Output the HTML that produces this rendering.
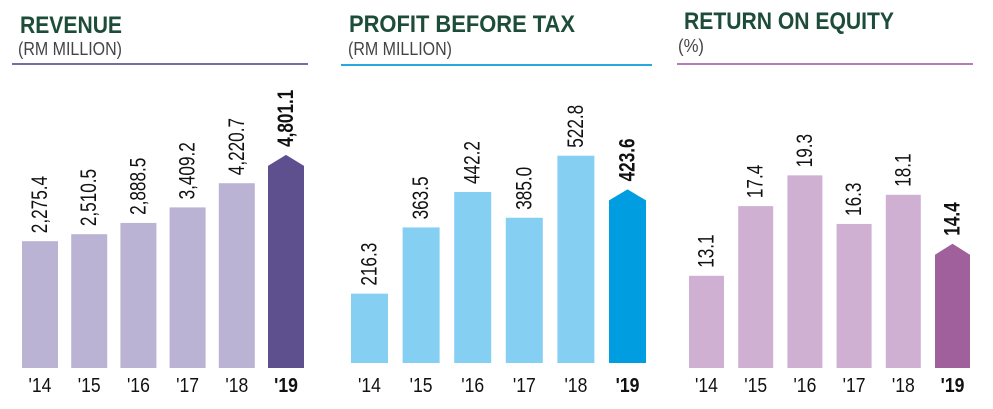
<!DOCTYPE html>
<html><head><meta charset="utf-8"><style>
html,body{margin:0;padding:0;background:#fff;width:993px;height:409px;overflow:hidden}
svg{display:block}
</style></head><body>
<svg id="chart" width="993" height="409" viewBox="0 0 993 409" xmlns="http://www.w3.org/2000/svg"></svg>
<script>
const years = ["'14","'15","'16","'17","'18","'19"];
const revenueValues = [2275.4, 2510.5, 2888.5, 3409.2, 4220.7, 4801.1];
const revenueLabels = ["2,275.4","2,510.5","2,888.5","3,409.2","4,220.7","4,801.1"];
const pbtValues = [216.3, 363.5, 442.2, 385.0, 522.8, 423.6];
const pbtLabels = ["216.3","363.5","442.2","385.0","522.8","423.6"];
const roeValues = [13.1, 17.4, 19.3, 16.3, 18.1, 14.4];
const roeLabels = ["13.1","17.4","19.3","16.3","18.1","14.4"];

const NS = "http://www.w3.org/2000/svg";
const svg = document.getElementById('chart');
function mk(tag, attrs, parent) {
  const e = document.createElementNS(NS, tag);
  for (const k in attrs) e.setAttribute(k, attrs[k]);
  (parent || svg).appendChild(e);
  return e;
}
const panels = [
  {key:'revenue', title:'REVENUE', titleW:102, titleX:20, titleY:33, sub:'(RM MILLION)', subW:104, subX:18, subY:55,
   lineX1:12, lineX2:308, lineY:64, lineC:'#7a6aa9', x0:22, step:49.2, bw:36, base:368,
   a:59, b:0.0298, light:'#bab3d4', dark:'#5e4f8e', vals:revenueValues, labs:revenueLabels},
  {key:'pbt', title:'PROFIT BEFORE TAX', titleW:226, titleX:349, titleY:32, sub:'(RM MILLION)', subW:104, subX:348, subY:55,
   lineX1:341, lineX2:652, lineY:65, lineC:'#29a8e0', x0:351, step:51.6, bw:37, base:363,
   a:-28, b:0.45, light:'#85cff3', dark:'#009ee0', vals:pbtValues, labs:pbtLabels},
  {key:'roe', title:'RETURN ON EQUITY', titleW:210, titleX:684, titleY:29, sub:'(%)', subW:26, subX:678, subY:52,
   lineX1:677, lineX2:973, lineY:64, lineC:'#b57db6', x0:689, step:49.2, bw:35, base:368,
   a:-120, b:16.2, light:'#cfb0d3', dark:'#a0609c', vals:roeValues, labs:roeLabels}
];
const FONT = '"Liberation Sans",sans-serif';
panels.forEach(p => {
  const g = mk('g', {});
  
  
  const t = mk('text', {x:p.titleX, y:p.titleY, 'font-family':FONT,'font-weight':'bold','font-size':24, fill:'#1d4d3a', textLength:p.titleW, lengthAdjust:'spacingAndGlyphs'}, g);
  t.textContent = p.title;
  
  
  const s = mk('text', {x:p.subX, y:p.subY, 'font-family':FONT,'font-size':18, fill:'#444', textLength:p.subW, lengthAdjust:'spacingAndGlyphs'}, g);
  s.textContent = p.sub;
  
  
  const l = mk('line', {x1:p.lineX1, x2:p.lineX2, y1:p.lineY, y2:p.lineY, stroke:p.lineC, 'stroke-width':2}, g);
  
  
  const yScale = v => p.base - (p.a + p.b * v);
  p.vals.forEach((v, i) => {
    const x = p.x0 + i * p.step;
    const top = yScale(v);
    const last = i === p.vals.length - 1;
    let bar;
    if (last) {
      const peak = top - 11;
      bar = mk('path', {d:`M${x},${p.base} L${x},${top} L${x + p.bw/2},${peak} L${x + p.bw},${top} L${x + p.bw},${p.base} Z`, fill:p.dark}, g);
    } else {
      bar = mk('rect', {x:x, y:top, width:p.bw, height:p.base - top, fill:p.light}, g);
    }
    
    
    const cx = x + p.bw / 2 + 7;
    const ly = (last ? top - 11 : top) - 8;
    const lab = mk('text', {x:0, y:0, transform:`translate(${cx},${ly}) rotate(-90) scale(0.78,1)`, 'font-family':FONT, 'font-size':22, 'font-weight': last ? 'bold' : 'normal', fill:'#111'}, g);
    lab.textContent = p.labs[i];
    
    
    const yl = mk('text', {x:0, y:0, transform:`translate(${x + p.bw/2},392) scale(0.88,1)`, 'text-anchor':'middle', 'font-family':FONT, 'font-size':20, 'font-weight': last ? 'bold' : 'normal', fill:'#111'}, g);
    yl.textContent = years[i];
    
    
  });
});
</script>
</body></html>
